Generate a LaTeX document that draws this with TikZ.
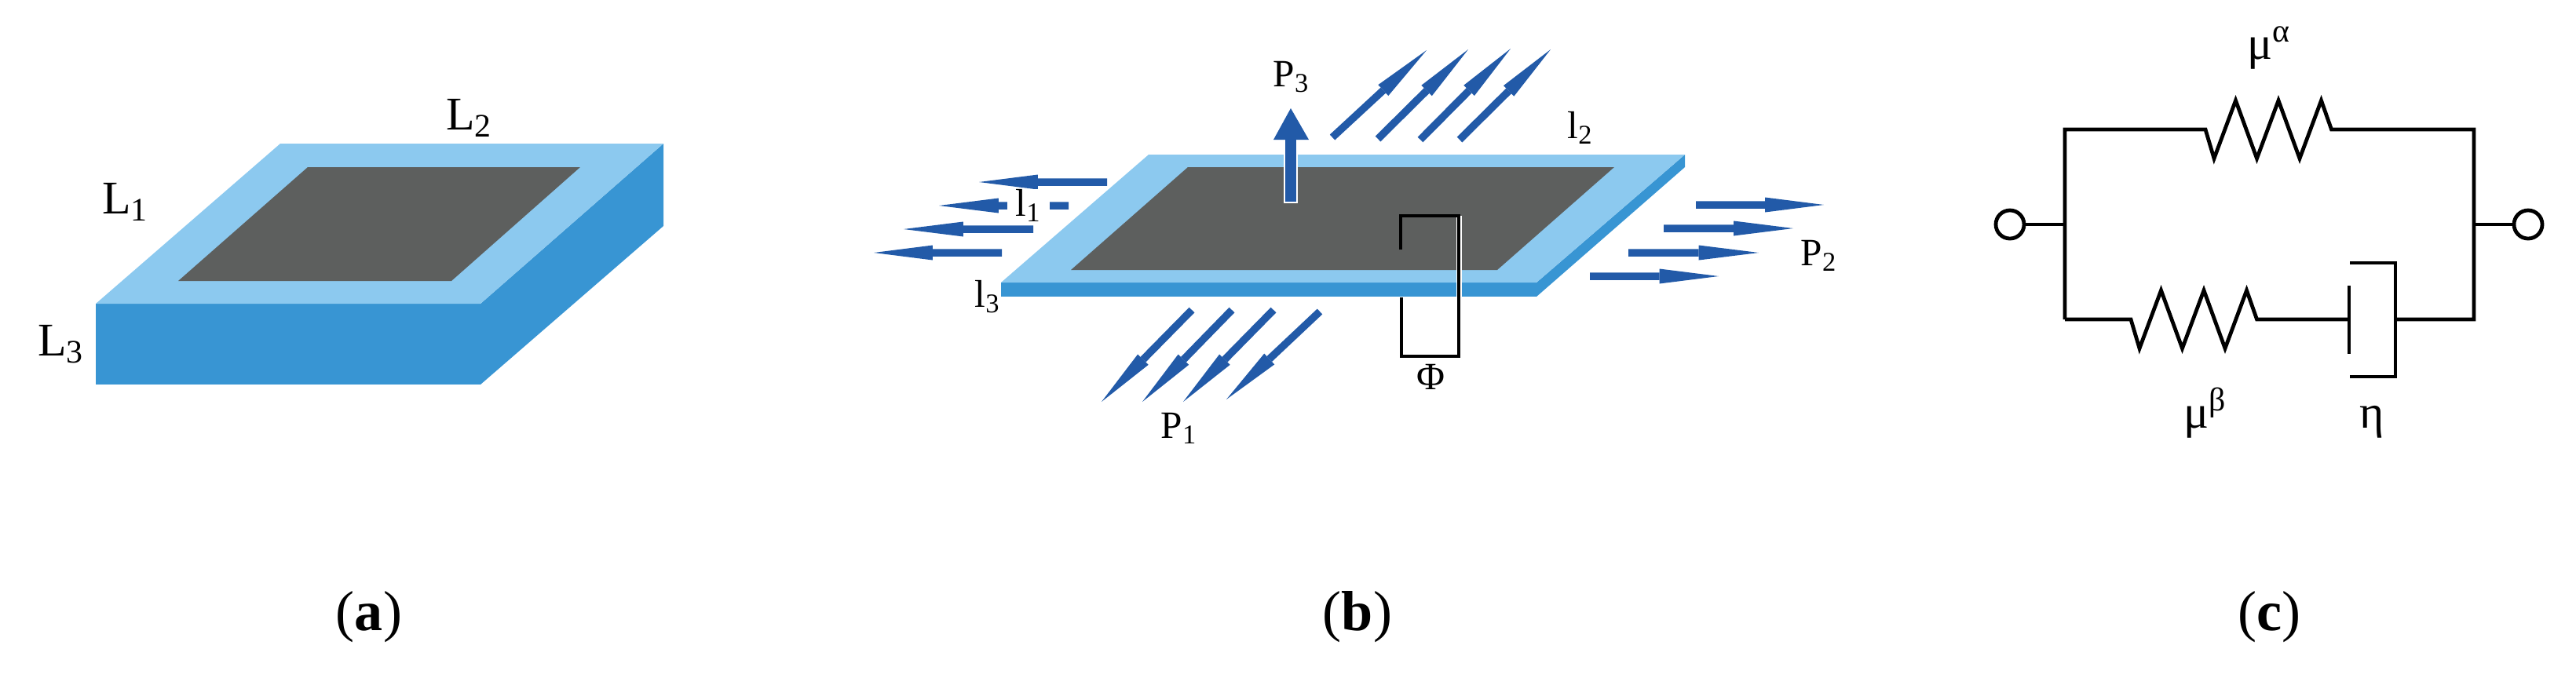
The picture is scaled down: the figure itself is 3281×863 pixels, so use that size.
\documentclass[tikz,border=0pt]{standalone}
\usepackage{fontspec}
\setmainfont{Liberation Serif}
\usetikzlibrary{calc}
\definecolor{faceblue}{HTML}{8CC9EF}
\definecolor{sideblue}{HTML}{3895D3}
\definecolor{corearea}{HTML}{5D5F5E}
\definecolor{forceblue}{HTML}{225AA8}
\newcommand{\zigzag}{-- ++(11,37) -- ++(27.5,-74) -- ++(27,74) -- ++(27.5,-74) -- ++(27,74) -- ++(27.5,-74) -- ++(13,37)}

\begin{document}
\begin{tikzpicture}[x=.01cm,y=-.01cm,
  biglabel/.style={inner sep=0pt,font=\fontsize{17}{17}\selectfont},
  smalllabel/.style={inner sep=0pt,font=\fontsize{14}{14}\selectfont},
  caption/.style={inner sep=0pt,anchor=base,font=\fontsize{20.5}{20.5}\selectfont},
  wire/.style={line width=.048cm,black},
  thinwire/.style={line width=.035cm,black},
  force/.style={line width=.095cm,forceblue}]
  \useasboundingbox (0,0) rectangle (3281,863);

  % (a) block
  \fill[sideblue] (122,387) rectangle (612,490);
  \fill[sideblue] (612,387) -- (845,183) -- (845,288) -- (612,490) -- cycle;
  \fill[faceblue] (122,387) -- (357,183) -- (845,183) -- (612,387) -- cycle;
  \fill[corearea] (392,213) -- (739,213) -- (575,358) -- (227,358) -- cycle;
  \node[biglabel] (L1) at (160,257) {L\textsubscript{1}};
  \node[biglabel] (L2) at (598,150) {L\textsubscript{2}};
  \node[biglabel] (L3) at (78,439) {L\textsubscript{3}};

  % (b) plate
  \fill[sideblue] (1275,360) rectangle (1957,378);
  \fill[sideblue] (1957,360) -- (2146,197) -- (2146,213) -- (1957,378) -- cycle;
  \fill[faceblue] (1275,360) -- (1463,197) -- (2146,197) -- (1957,360) -- cycle;
  \fill[corearea] (1513,213) -- (2056,213) -- (1907,344) -- (1364,344) -- cycle;

  \foreach \n/\tail/\tip in {
    w1/{1410,232}/{1247,232},w2/{1361,262}/{1196,262},w3/{1316,292}/{1151,292},w4/{1276,322}/{1113,322},
    e1/{2160,261}/{2323,261},e2/{2119,291}/{2284,291},e3/{2074,322}/{2240,322},e4/{2025,352}/{2189,352},
    n1/{1697,175}/{1817,64},n2/{1755,177}/{1870,63},n3/{1809,178}/{1924,62},n4/{1859,178}/{1975,63},
    s1/{1518,395}/{1403,512},s2/{1569,395}/{1455,512},s3/{1622,395}/{1507,512},s4/{1681,397}/{1562,509}} {
    \coordinate (\n tail) at (\tail);
    \coordinate (\n tip) at (\tip);
    \coordinate (\n base) at ($(\n tail)!.54!(\n tip)$);
    \draw[force] (\n tail) -- (\n base);
    \fill[forceblue] ($(\n base)!.095cm!90:(\n tip)$) -- (\n tip) -- ($(\n base)!.095cm!-90:(\n tip)$) -- cycle;
  }

  % normal force
  \coordinate (p3tail) at (1644,257);
  \coordinate (p3base) at (1644,178);
  \coordinate (p3tip) at (1644,138);
  \draw[line width=.18cm,white] ($(p3tail)+(0,2)$) -- (p3base);
  \draw[line width=.14cm,forceblue] (p3tail) -- (p3base);
  \fill[forceblue] (1622,178) -- (p3tip) -- (1667,178) -- cycle;

  % flux loop
  \coordinate (phi1) at (1784,318);
  \coordinate (phi2) at (1784,275);
  \coordinate (phi3) at (1858,275);
  \coordinate (phi4) at (1858,454);
  \coordinate (phi5) at (1785,454);
  \coordinate (phi6) at (1785,379);
  \draw[line width=.07cm,white] (phi3) -- (phi4);
  \draw[thinwire] (phi1) -- (phi2) -- (phi3) -- (phi4) -- (phi5) -- (phi6);

  \node[smalllabel,fill=white,minimum width=.54cm,minimum height=.3cm] (l1) at (1310,262) {l\textsubscript{1}};
  \node[smalllabel] (l2) at (2013,163) {l\textsubscript{2}};
  \node[smalllabel] (l3) at (1258,378) {l\textsubscript{3}};
  \node[smalllabel] (P1) at (1502,546) {P\textsubscript{1}};
  \node[smalllabel] (P2) at (2317,326) {P\textsubscript{2}};
  \node[smalllabel] (P3) at (1645,98) {P\textsubscript{3}};
  \node[smalllabel] (Phi) at (1822,480) {Φ};

  % (c) rheological model
  \node[circle,draw,wire,minimum size=.36cm,inner sep=0pt] (in) at (2560,286) {};
  \node[circle,draw,wire,minimum size=.36cm,inner sep=0pt] (out) at (3220,286) {};
  \coordinate (jleft) at (2630,286);
  \coordinate (jright) at (3151,286);
  \coordinate (topleft) at (2630,165);
  \coordinate (topright) at (3151,165);
  \coordinate (botleft) at (2630,407);
  \coordinate (botright) at (3151,407);
  \coordinate (spring1) at (2809,165);
  \coordinate (spring2) at (2714,407);
  \coordinate (piston) at (2992,407);
  \coordinate (pistontop) at (2992,364);
  \coordinate (pistonbot) at (2992,451);
  \coordinate (cupa) at (2993,335);
  \coordinate (cupb) at (3051,335);
  \coordinate (cupc) at (3051,480);
  \coordinate (cupd) at (2993,480);
  \coordinate (cupout) at (3051,407);

  \draw[wire] (in) -- (jleft) (jright) -- (out);
  \draw[wire,miter limit=10] (botleft) -- (topleft) -- (spring1) \zigzag -- (topright) -- (botright) -- (cupout);
  \draw[wire] (botleft) -- (spring2) \zigzag -- (piston);
  \draw[wire] (pistontop) -- (pistonbot);
  \draw[wire] (cupa) -- (cupb) -- (cupc) -- (cupd);

  \node[biglabel] (mua) at (2890,61) {μ\textsuperscript{α}};
  \node[biglabel] (mub) at (2809,526) {μ\textsuperscript{β}};
  \node[biglabel] (eta) at (3021,538) {η};

  \node[caption] (capa) at (470,803) {(\textbf{a})};
  \node[caption] (capb) at (1729,803) {(\textbf{b})};
  \node[caption] (capc) at (2890,803) {(\textbf{c})};
\end{tikzpicture}
\end{document}
